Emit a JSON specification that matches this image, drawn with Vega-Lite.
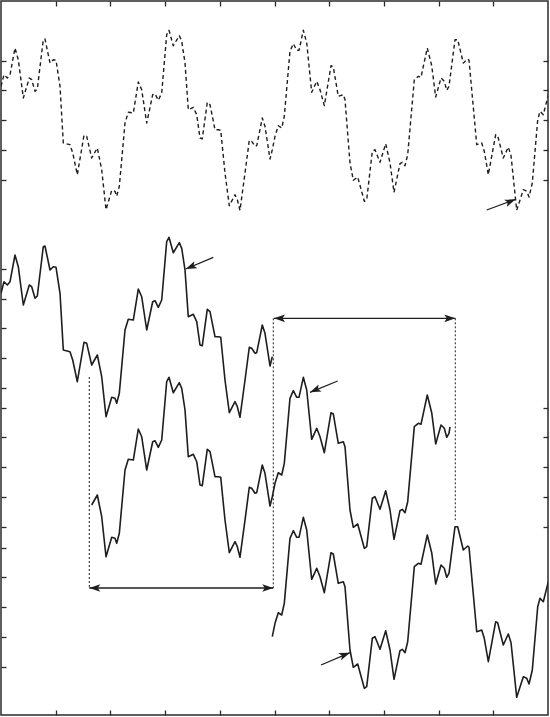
{
  "$schema": "https://vega.github.io/schema/vega-lite/v6.json",
  "width": 547,
  "height": 714,
  "autosize": {"type": "none"},
  "padding": {"left": 1, "top": 1, "right": 2, "bottom": 2},
  "background": "white",
  "config": {
    "view": {"stroke": "#2a2a2a", "strokeWidth": 1.5},
    "axis": {"labels": false, "domain": false, "grid": false, "ticks": true, "tickSize": -5, "tickColor": "#2a2a2a", "tickWidth": 1.3, "title": null}
  },
  "datasets": {
    "signal": [
      {"x":0.000,"y":1.133},{"x":0.055,"y":1.523},{"x":0.115,"y":1.412},{"x":0.165,"y":1.523},{"x":0.256,"y":2.420},{"x":0.316,"y":2.027},{"x":0.408,"y":0.739},{"x":0.517,"y":1.412},{"x":0.561,"y":1.355},{"x":0.622,"y":0.965},{"x":0.664,"y":1.042},{"x":0.773,"y":2.699},{"x":0.804,"y":2.723},{"x":0.896,"y":1.916},{"x":0.956,"y":2.027},{"x":1.006,"y":2.007},{"x":1.079,"y":1.133},{"x":1.139,"y":-0.773},{"x":1.261,"y":-0.830},{"x":1.311,"y":-1.109},{"x":1.395,"y":-1.839},{"x":1.517,"y":-0.514},{"x":1.567,"y":-0.548},{"x":1.658,"y":-1.277},{"x":1.761,"y":-0.941},{"x":1.841,"y":-1.671},{"x":1.920,"y":-3.015},{"x":2.024,"y":-2.363},{"x":2.084,"y":-2.397},{"x":2.115,"y":-2.565},{"x":2.163,"y":-2.229},{"x":2.267,"y":-0.101},{"x":2.327,"y":0.259},{"x":2.419,"y":0.235},{"x":2.510,"y":1.277},{"x":2.572,"y":1.018},{"x":2.664,"y":-0.101},{"x":2.773,"y":0.850},{"x":2.815,"y":0.884},{"x":2.876,"y":0.662},{"x":2.938,"y":0.908},{"x":3.029,"y":2.867},{"x":3.071,"y":3.015},{"x":3.150,"y":2.497},{"x":3.260,"y":2.834},{"x":3.304,"y":2.645},{"x":3.364,"y":1.916},{"x":3.424,"y":0.346},{"x":3.516,"y":0.427},{"x":3.578,"y":0.178},{"x":3.638,"y":-0.605},{"x":3.680,"y":-0.629},{"x":3.771,"y":0.595},{"x":3.821,"y":0.514},{"x":3.912,"y":-0.326},{"x":3.973,"y":-0.326},{"x":4.017,"y":-0.346},{"x":4.095,"y":-1.782},{"x":4.174,"y":-2.881},{"x":4.278,"y":-2.511},{"x":4.320,"y":-2.679},{"x":4.369,"y":-3.035},{"x":4.461,"y":-1.782},{"x":4.539,"y":-0.682},{"x":4.583,"y":-0.716},{"x":4.644,"y":-0.884},{"x":4.675,"y":-0.864},{"x":4.777,"y":0.067},{"x":4.826,"y":-0.212},{"x":4.918,"y":-1.311},{"x":4.960,"y":-0.998},{"x":5.009,"y":-0.548},{"x":5.069,"y":-0.192},{"x":5.132,"y":-0.269},{"x":5.179,"y":0.124},{"x":5.283,"y":2.309},{"x":5.344,"y":2.565},{"x":5.406,"y":2.343},{"x":5.448,"y":2.343},{"x":5.527,"y":3.015},{"x":5.589,"y":2.588},{"x":5.680,"y":0.931},{"x":5.772,"y":1.301},{"x":5.832,"y":1.018},{"x":5.911,"y":0.481},{"x":6.033,"y":1.825},{"x":6.075,"y":1.782},{"x":6.166,"y":0.797},{"x":6.258,"y":0.850},{"x":6.289,"y":0.682},{"x":6.380,"y":-1.445},{"x":6.441,"y":-2.027},{"x":6.521,"y":-1.916},{"x":6.642,"y":-2.733},{"x":6.686,"y":-2.679},{"x":6.788,"y":-1.052},{"x":6.837,"y":-0.998},{"x":6.929,"y":-1.422},{"x":7.033,"y":-0.797},{"x":7.112,"y":-1.445},{"x":7.185,"y":-2.430},{"x":7.294,"y":-1.469},{"x":7.336,"y":-1.422},{"x":7.386,"y":-1.536},{"x":7.435,"y":-1.166},{"x":7.556,"y":1.355},{"x":7.629,"y":1.469},{"x":7.678,"y":1.435},{"x":7.793,"y":2.420},{"x":7.874,"y":1.825},{"x":7.947,"y":0.773},{"x":8.044,"y":1.412},{"x":8.104,"y":1.301},{"x":8.148,"y":0.998},{"x":8.190,"y":1.133},{"x":8.300,"y":2.699},{"x":8.349,"y":2.699},{"x":8.452,"y":1.916},{"x":8.532,"y":2.050},{"x":8.556,"y":2.007},{"x":8.697,"y":-0.830},{"x":8.788,"y":-0.773},{"x":8.835,"y":-1.052},{"x":8.909,"y":-1.839},{"x":9.044,"y":-0.494},{"x":9.080,"y":-0.528},{"x":9.183,"y":-1.277},{"x":9.274,"y":-0.908},{"x":9.324,"y":-1.200},{"x":9.428,"y":-3.035},{"x":9.549,"y":-2.343},{"x":9.611,"y":-2.397},{"x":9.653,"y":-2.588},{"x":9.713,"y":-2.118},{"x":9.812,"y":0.010},{"x":9.854,"y":0.292},{"x":9.914,"y":0.178},{"x":10.006,"y":0.850}
    ],
    "copies": [
      {"s":"A","x":0.000,"y":-5.825},{"s":"A","x":0.055,"y":-5.435},{"s":"A","x":0.115,"y":-5.546},{"s":"A","x":0.165,"y":-5.435},{"s":"A","x":0.256,"y":-4.538},{"s":"A","x":0.316,"y":-4.931},{"s":"A","x":0.408,"y":-6.219},{"s":"A","x":0.517,"y":-5.546},{"s":"A","x":0.561,"y":-5.603},{"s":"A","x":0.622,"y":-5.993},{"s":"A","x":0.664,"y":-5.916},{"s":"A","x":0.773,"y":-4.259},{"s":"A","x":0.804,"y":-4.235},{"s":"A","x":0.896,"y":-5.042},{"s":"A","x":0.956,"y":-4.931},{"s":"A","x":1.006,"y":-4.951},{"s":"A","x":1.079,"y":-5.825},{"s":"A","x":1.139,"y":-7.731},{"s":"A","x":1.261,"y":-7.788},{"s":"A","x":1.311,"y":-8.067},{"s":"A","x":1.395,"y":-8.797},{"s":"A","x":1.517,"y":-7.472},{"s":"A","x":1.567,"y":-7.506},{"s":"A","x":1.658,"y":-8.235},{"s":"A","x":1.761,"y":-7.899},{"s":"A","x":1.841,"y":-8.629},{"s":"A","x":1.920,"y":-9.973},{"s":"A","x":2.024,"y":-9.321},{"s":"A","x":2.084,"y":-9.355},{"s":"A","x":2.115,"y":-9.523},{"s":"A","x":2.163,"y":-9.187},{"s":"A","x":2.267,"y":-7.059},{"s":"A","x":2.327,"y":-6.699},{"s":"A","x":2.419,"y":-6.723},{"s":"A","x":2.510,"y":-5.681},{"s":"A","x":2.572,"y":-5.940},{"s":"A","x":2.664,"y":-7.059},{"s":"A","x":2.773,"y":-6.108},{"s":"A","x":2.815,"y":-6.074},{"s":"A","x":2.876,"y":-6.296},{"s":"A","x":2.938,"y":-6.050},{"s":"A","x":3.029,"y":-4.091},{"s":"A","x":3.071,"y":-3.943},{"s":"A","x":3.150,"y":-4.461},{"s":"A","x":3.260,"y":-4.124},{"s":"A","x":3.304,"y":-4.313},{"s":"A","x":3.364,"y":-5.042},{"s":"A","x":3.424,"y":-6.612},{"s":"A","x":3.516,"y":-6.531},{"s":"A","x":3.578,"y":-6.780},{"s":"A","x":3.638,"y":-7.563},{"s":"A","x":3.680,"y":-7.587},{"s":"A","x":3.771,"y":-6.363},{"s":"A","x":3.821,"y":-6.444},{"s":"A","x":3.912,"y":-7.284},{"s":"A","x":3.973,"y":-7.284},{"s":"A","x":4.017,"y":-7.304},{"s":"A","x":4.095,"y":-8.740},{"s":"A","x":4.174,"y":-9.839},{"s":"A","x":4.278,"y":-9.469},{"s":"A","x":4.320,"y":-9.637},{"s":"A","x":4.369,"y":-9.993},{"s":"A","x":4.461,"y":-8.740},{"s":"A","x":4.539,"y":-7.640},{"s":"A","x":4.583,"y":-7.674},{"s":"A","x":4.644,"y":-7.842},{"s":"A","x":4.675,"y":-7.822},{"s":"A","x":4.777,"y":-6.891},{"s":"A","x":4.826,"y":-7.170},{"s":"A","x":4.918,"y":-8.269},{"s":"A","x":4.960,"y":-7.956},
      {"s":"B","x":1.658,"y":-12.941},{"s":"B","x":1.761,"y":-12.605},{"s":"B","x":1.841,"y":-13.335},{"s":"B","x":1.920,"y":-14.679},{"s":"B","x":2.024,"y":-14.027},{"s":"B","x":2.084,"y":-14.061},{"s":"B","x":2.115,"y":-14.229},{"s":"B","x":2.163,"y":-13.893},{"s":"B","x":2.267,"y":-11.765},{"s":"B","x":2.327,"y":-11.405},{"s":"B","x":2.419,"y":-11.429},{"s":"B","x":2.510,"y":-10.387},{"s":"B","x":2.572,"y":-10.646},{"s":"B","x":2.664,"y":-11.765},{"s":"B","x":2.773,"y":-10.814},{"s":"B","x":2.815,"y":-10.780},{"s":"B","x":2.876,"y":-11.002},{"s":"B","x":2.938,"y":-10.756},{"s":"B","x":3.029,"y":-8.797},{"s":"B","x":3.071,"y":-8.649},{"s":"B","x":3.150,"y":-9.167},{"s":"B","x":3.260,"y":-8.830},{"s":"B","x":3.304,"y":-9.019},{"s":"B","x":3.364,"y":-9.748},{"s":"B","x":3.424,"y":-11.318},{"s":"B","x":3.516,"y":-11.237},{"s":"B","x":3.578,"y":-11.486},{"s":"B","x":3.638,"y":-12.269},{"s":"B","x":3.680,"y":-12.293},{"s":"B","x":3.771,"y":-11.069},{"s":"B","x":3.821,"y":-11.150},{"s":"B","x":3.912,"y":-11.990},{"s":"B","x":3.973,"y":-11.990},{"s":"B","x":4.017,"y":-12.010},{"s":"B","x":4.095,"y":-13.446},{"s":"B","x":4.174,"y":-14.545},{"s":"B","x":4.278,"y":-14.175},{"s":"B","x":4.320,"y":-14.343},{"s":"B","x":4.369,"y":-14.699},{"s":"B","x":4.461,"y":-13.446},{"s":"B","x":4.539,"y":-12.346},{"s":"B","x":4.583,"y":-12.380},{"s":"B","x":4.644,"y":-12.548},{"s":"B","x":4.675,"y":-12.528},{"s":"B","x":4.777,"y":-11.597},{"s":"B","x":4.826,"y":-11.876},{"s":"B","x":4.918,"y":-12.975},{"s":"B","x":4.960,"y":-12.662},{"s":"B","x":5.009,"y":-12.212},{"s":"B","x":5.069,"y":-11.856},{"s":"B","x":5.132,"y":-11.933},{"s":"B","x":5.179,"y":-11.540},{"s":"B","x":5.283,"y":-9.355},{"s":"B","x":5.344,"y":-9.099},{"s":"B","x":5.406,"y":-9.321},{"s":"B","x":5.448,"y":-9.321},{"s":"B","x":5.527,"y":-8.649},{"s":"B","x":5.589,"y":-9.076},{"s":"B","x":5.680,"y":-10.733},{"s":"B","x":5.772,"y":-10.363},{"s":"B","x":5.832,"y":-10.646},{"s":"B","x":5.911,"y":-11.183},{"s":"B","x":6.033,"y":-9.839},{"s":"B","x":6.075,"y":-9.882},{"s":"B","x":6.166,"y":-10.867},{"s":"B","x":6.258,"y":-10.814},{"s":"B","x":6.289,"y":-10.982},{"s":"B","x":6.380,"y":-13.109},{"s":"B","x":6.441,"y":-13.691},{"s":"B","x":6.521,"y":-13.580},{"s":"B","x":6.642,"y":-14.397},{"s":"B","x":6.686,"y":-14.343},{"s":"B","x":6.788,"y":-12.716},{"s":"B","x":6.837,"y":-12.662},{"s":"B","x":6.929,"y":-13.086},{"s":"B","x":7.033,"y":-12.461},{"s":"B","x":7.112,"y":-13.109},{"s":"B","x":7.185,"y":-14.094},{"s":"B","x":7.294,"y":-13.133},{"s":"B","x":7.336,"y":-13.086},{"s":"B","x":7.386,"y":-13.200},{"s":"B","x":7.435,"y":-12.830},{"s":"B","x":7.556,"y":-10.309},{"s":"B","x":7.629,"y":-10.195},{"s":"B","x":7.678,"y":-10.229},{"s":"B","x":7.793,"y":-9.244},{"s":"B","x":7.874,"y":-9.839},{"s":"B","x":7.947,"y":-10.891},{"s":"B","x":8.044,"y":-10.252},{"s":"B","x":8.104,"y":-10.363},{"s":"B","x":8.148,"y":-10.666},{"s":"B","x":8.190,"y":-10.531},{"s":"B","x":8.208,"y":-10.319},
      {"s":"C","x":4.960,"y":-17.368},{"s":"C","x":5.009,"y":-16.918},{"s":"C","x":5.069,"y":-16.562},{"s":"C","x":5.132,"y":-16.639},{"s":"C","x":5.179,"y":-16.246},{"s":"C","x":5.283,"y":-14.061},{"s":"C","x":5.344,"y":-13.805},{"s":"C","x":5.406,"y":-14.027},{"s":"C","x":5.448,"y":-14.027},{"s":"C","x":5.527,"y":-13.355},{"s":"C","x":5.589,"y":-13.782},{"s":"C","x":5.680,"y":-15.439},{"s":"C","x":5.772,"y":-15.069},{"s":"C","x":5.832,"y":-15.352},{"s":"C","x":5.911,"y":-15.889},{"s":"C","x":6.033,"y":-14.545},{"s":"C","x":6.075,"y":-14.588},{"s":"C","x":6.166,"y":-15.573},{"s":"C","x":6.258,"y":-15.520},{"s":"C","x":6.289,"y":-15.688},{"s":"C","x":6.380,"y":-17.815},{"s":"C","x":6.441,"y":-18.397},{"s":"C","x":6.521,"y":-18.286},{"s":"C","x":6.642,"y":-19.103},{"s":"C","x":6.686,"y":-19.049},{"s":"C","x":6.788,"y":-17.422},{"s":"C","x":6.837,"y":-17.368},{"s":"C","x":6.929,"y":-17.792},{"s":"C","x":7.033,"y":-17.167},{"s":"C","x":7.112,"y":-17.815},{"s":"C","x":7.185,"y":-18.800},{"s":"C","x":7.294,"y":-17.839},{"s":"C","x":7.336,"y":-17.792},{"s":"C","x":7.386,"y":-17.906},{"s":"C","x":7.435,"y":-17.536},{"s":"C","x":7.556,"y":-15.015},{"s":"C","x":7.629,"y":-14.901},{"s":"C","x":7.678,"y":-14.935},{"s":"C","x":7.793,"y":-13.950},{"s":"C","x":7.874,"y":-14.545},{"s":"C","x":7.947,"y":-15.597},{"s":"C","x":8.044,"y":-14.958},{"s":"C","x":8.104,"y":-15.069},{"s":"C","x":8.148,"y":-15.372},{"s":"C","x":8.190,"y":-15.237},{"s":"C","x":8.300,"y":-13.671},{"s":"C","x":8.349,"y":-13.671},{"s":"C","x":8.452,"y":-14.454},{"s":"C","x":8.532,"y":-14.320},{"s":"C","x":8.556,"y":-14.363},{"s":"C","x":8.697,"y":-17.200},{"s":"C","x":8.788,"y":-17.143},{"s":"C","x":8.835,"y":-17.422},{"s":"C","x":8.909,"y":-18.209},{"s":"C","x":9.044,"y":-16.864},{"s":"C","x":9.080,"y":-16.898},{"s":"C","x":9.183,"y":-17.647},{"s":"C","x":9.274,"y":-17.278},{"s":"C","x":9.324,"y":-17.570},{"s":"C","x":9.428,"y":-19.405},{"s":"C","x":9.549,"y":-18.713},{"s":"C","x":9.611,"y":-18.767},{"s":"C","x":9.653,"y":-18.958},{"s":"C","x":9.713,"y":-18.488},{"s":"C","x":9.812,"y":-16.360},{"s":"C","x":9.854,"y":-16.078},{"s":"C","x":9.914,"y":-16.192},{"s":"C","x":10.006,"y":-15.520}
    ],
    "guides": [
      {"x":1.614,"y":-8.639,"y2":-15.731},
      {"x":4.978,"y":-6.666,"y2":-15.731},
      {"x":8.305,"y":-6.666,"y2":-13.445}
    ],
    "spans": [
      {"x":1.614,"x2":4.978,"y":-15.731},
      {"x":4.991,"x2":8.305,"y":-6.666}
    ],
    "pointers": [
      {"dir":"up","x":8.879,"y":-3.025,"x2":9.410,"y2":-2.666},
      {"dir":"down","x":3.881,"y":-4.615,"x2":3.377,"y2":-5.008},
      {"dir":"down","x":6.155,"y":-8.773,"x2":5.649,"y2":-9.153},
      {"dir":"up","x":5.850,"y":-18.319,"x2":6.380,"y2":-17.906}
    ]
  },
  "resolve": {"axis": {"x": "independent", "y": "independent"}},
  "layer": [
    {
      "data": {"name": "signal"},
      "mark": {"type": "line", "clip": true, "color": "#1e1e1e", "strokeWidth": 1.4, "strokeJoin": "round", "strokeDash": [4, 3]},
      "encoding": {
        "x": {"field": "x", "type": "quantitative", "scale": {"domain": [0, 10], "nice": false, "zero": false}, "axis": {"orient": "bottom", "values": [1,2,3,4,5,6,7,8,9]}},
        "y": {"field": "y", "type": "quantitative", "scale": {"domain": [-20, 4], "nice": false, "zero": false}, "axis": {"orient": "left", "values": [2,1,0,-1,-2,-5,-6,-7,-8,-9,-9.664,-10.664,-11.664,-12.664,-13.664,-14.37,-15.37,-16.37,-17.37,-18.37]}}
      }
    },
    {
      "data": {"name": "copies"},
      "mark": {"type": "line", "clip": true, "color": "#1e1e1e", "strokeWidth": 1.6, "strokeJoin": "round"},
      "encoding": {
        "x": {"field": "x", "type": "quantitative", "scale": {"domain": [0, 10], "nice": false, "zero": false}, "axis": {"orient": "top", "values": [1,2,3,4,5,6,7,8,9]}},
        "y": {"field": "y", "type": "quantitative", "scale": {"domain": [-20, 4], "nice": false, "zero": false}, "axis": {"orient": "right", "values": [2,1,0,-1,-2,-9.664,-10.664,-11.664,-12.664,-13.664]}},
        "detail": {"field": "s", "type": "nominal"}
      }
    },
    {
      "data": {"name": "guides"},
      "mark": {"type": "rule", "color": "#1e1e1e", "strokeWidth": 1, "strokeDash": [2, 2]},
      "encoding": {
        "x": {"field": "x", "type": "quantitative", "scale": {"domain": [0, 10], "nice": false, "zero": false}, "axis": null},
        "y": {"field": "y", "type": "quantitative", "scale": {"domain": [-20, 4], "nice": false, "zero": false}, "axis": null},
        "y2": {"field": "y2"}
      }
    },
    {
      "data": {"name": "spans"},
      "mark": {"type": "rule", "color": "#1e1e1e", "strokeWidth": 1.3},
      "encoding": {
        "x": {"field": "x", "type": "quantitative", "scale": {"domain": [0, 10], "nice": false, "zero": false}, "axis": null},
        "x2": {"field": "x2"},
        "y": {"field": "y", "type": "quantitative", "scale": {"domain": [-20, 4], "nice": false, "zero": false}, "axis": null}
      }
    },
    {
      "data": {"name": "spans"},
      "mark": {"type": "point", "filled": true, "fill": "#1e1e1e", "opacity": 1, "strokeWidth": 0, "size": 121, "shape": "M0,0L2,-0.7L1.55,0L2,0.7Z"},
      "encoding": {
        "x": {"field": "x", "type": "quantitative", "scale": {"domain": [0, 10], "nice": false, "zero": false}, "axis": null},
        "y": {"field": "y", "type": "quantitative", "scale": {"domain": [-20, 4], "nice": false, "zero": false}, "axis": null}
      }
    },
    {
      "data": {"name": "spans"},
      "mark": {"type": "point", "filled": true, "fill": "#1e1e1e", "opacity": 1, "strokeWidth": 0, "size": 121, "shape": "M0,0L-2,-0.7L-1.55,0L-2,0.7Z"},
      "encoding": {
        "x": {"field": "x2", "type": "quantitative", "scale": {"domain": [0, 10], "nice": false, "zero": false}, "axis": null},
        "y": {"field": "y", "type": "quantitative", "scale": {"domain": [-20, 4], "nice": false, "zero": false}, "axis": null}
      }
    },
    {
      "data": {"name": "pointers"},
      "mark": {"type": "rule", "color": "#1e1e1e", "strokeWidth": 1.3},
      "encoding": {
        "x": {"field": "x", "type": "quantitative", "scale": {"domain": [0, 10], "nice": false, "zero": false}, "axis": null},
        "x2": {"field": "x2"},
        "y": {"field": "y", "type": "quantitative", "scale": {"domain": [-20, 4], "nice": false, "zero": false}, "axis": null},
        "y2": {"field": "y2"}
      }
    },
    {
      "data": {"name": "pointers"},
      "transform": [{"filter": "datum.dir === 'up'"}],
      "mark": {"type": "point", "filled": true, "fill": "#1e1e1e", "opacity": 1, "strokeWidth": 0, "size": 121, "angle": -21, "shape": "M0,0L-2,-0.7L-1.55,0L-2,0.7Z"},
      "encoding": {
        "x": {"field": "x2", "type": "quantitative", "scale": {"domain": [0, 10], "nice": false, "zero": false}, "axis": null},
        "y": {"field": "y2", "type": "quantitative", "scale": {"domain": [-20, 4], "nice": false, "zero": false}, "axis": null}
      }
    },
    {
      "data": {"name": "pointers"},
      "transform": [{"filter": "datum.dir === 'down'"}],
      "mark": {"type": "point", "filled": true, "fill": "#1e1e1e", "opacity": 1, "strokeWidth": 0, "size": 121, "angle": 157, "shape": "M0,0L-2,-0.7L-1.55,0L-2,0.7Z"},
      "encoding": {
        "x": {"field": "x2", "type": "quantitative", "scale": {"domain": [0, 10], "nice": false, "zero": false}, "axis": null},
        "y": {"field": "y2", "type": "quantitative", "scale": {"domain": [-20, 4], "nice": false, "zero": false}, "axis": null}
      }
    }
  ]
}
